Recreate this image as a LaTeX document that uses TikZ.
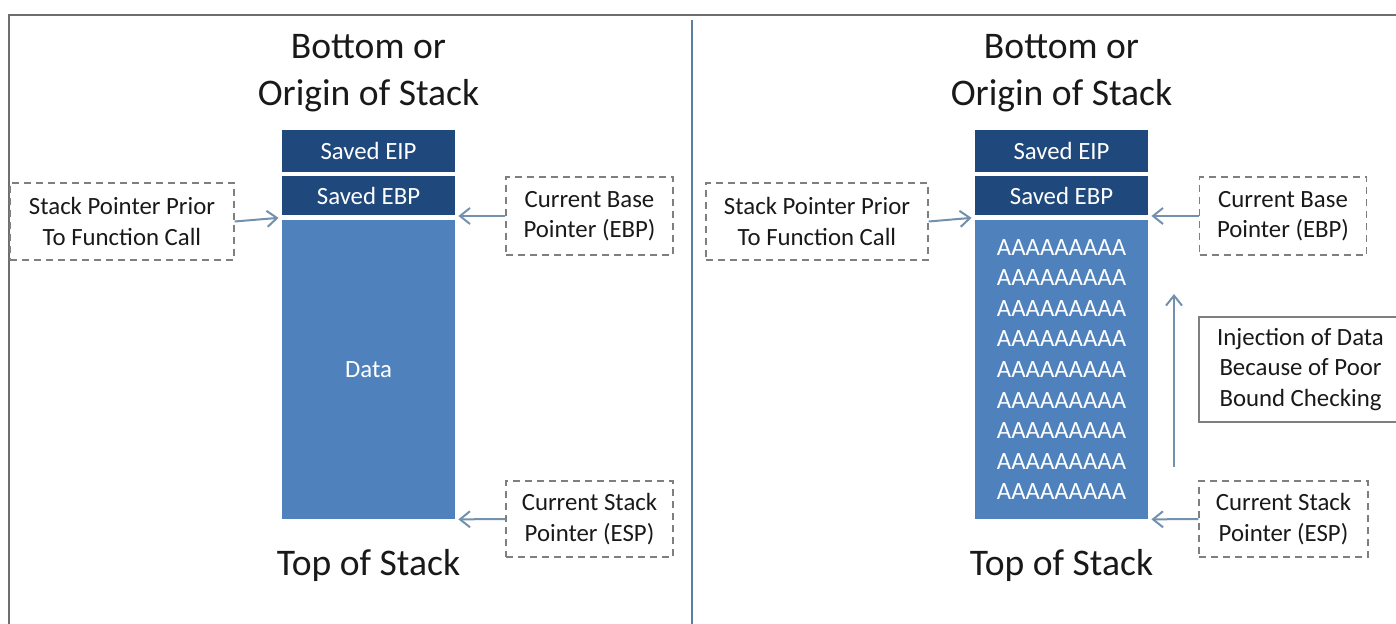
\documentclass[tikz,border=0pt]{standalone}
\usepackage{fontspec}
\setmainfont{Carlito}
\usetikzlibrary{arrows.meta}

\definecolor{savedblue}{HTML}{1F497D}
\definecolor{datablue}{HTML}{4F81BD}
\definecolor{arrowgrey}{HTML}{7391AD}
\definecolor{dashgrey}{HTML}{7F7F7F}
\definecolor{framegrey}{HTML}{6E6E6E}
\definecolor{splitblue}{HTML}{5E7F9E}

\newcommand{\bigtxt}{\fontsize{18.8}{23.5}\selectfont}
\newcommand{\smalltxt}{\fontsize{12.4}{15.3}\selectfont}

\begin{document}
\begin{tikzpicture}[x=0.5pt,y=-0.5pt,
  saved/.style={fill=savedblue,text=white,inner sep=0pt,minimum width=86.5pt,font=\smalltxt},
  datacol/.style={fill=datablue,text=white,inner sep=0pt,minimum width=86.5pt,minimum height=149.5pt,font=\smalltxt,align=center},
  dashbox/.style={draw=dashgrey,line width=0.7pt,dash pattern=on 3.5pt off 2.5pt,inner sep=0pt,align=center,font=\smalltxt,text=black!90},
  title/.style={align=center,font=\bigtxt,text=black!90},
  ptr/.style={draw=arrowgrey,line width=1pt,-{Straight Barb[length=5pt,width=8pt]},shorten >=1.5pt}]

\useasboundingbox (0,0) rectangle (1396,624);

% frame
\draw [framegrey,line width=1pt] (9,625)--(9,15)--(1397,15);
\draw [splitblue,line width=0.8pt] (692,20)--(692,625);

% left panel
\node [title] (botL) at (368.5,73) {Bottom or\\Origin of Stack};
\node [saved,minimum height=21pt] (eipL) at (368.5,151) {Saved EIP};
\node [saved,minimum height=19.5pt] (ebpL) at (368.5,195.5) {Saved EBP};
\node [datacol] (dataL) at (368.5,369.5) {Data};
\node [title] (topL) at (368.5,565) {Top of Stack};

\node [dashbox,minimum width=112pt,minimum height=38.5pt] (priorL) at (122,221.5) {Stack Pointer Prior\\To Function Call};
\node [dashbox,minimum width=83.5pt,minimum height=39pt] (baseL) at (589.5,216) {Current Base\\Pointer (EBP)};
\node [dashbox,minimum width=83.5pt,minimum height=38pt] (espL) at (589.5,519) {Current Stack\\Pointer (ESP)};

\draw [ptr] (priorL.east) -- ([yshift=1pt]dataL.north west);
\draw [ptr] (baseL.west) -- (baseL.west -| dataL.east);
\draw [ptr] (espL.west) -- (dataL.south east);

% right panel
\node [title] (botR) at (1061.5,73) {Bottom or\\Origin of Stack};
\node [saved,minimum height=21pt] (eipR) at (1061.5,151) {Saved EIP};
\node [saved,minimum height=19.5pt] (ebpR) at (1061.5,195.5) {Saved EBP};
\node [datacol] (dataR) at (1061.5,369.5) {AAAAAAAAA\\AAAAAAAAA\\AAAAAAAAA\\AAAAAAAAA\\AAAAAAAAA\\AAAAAAAAA\\AAAAAAAAA\\AAAAAAAAA\\AAAAAAAAA};
\node [title] (topR) at (1061.5,565) {Top of Stack};

\node [dashbox,minimum width=111pt,minimum height=38.5pt] (priorR) at (817,221.5) {Stack Pointer Prior\\To Function Call};
\node [dashbox,minimum width=83.5pt,minimum height=39pt] (baseR) at (1283,216) {Current Base\\Pointer (EBP)};
\node [dashbox,minimum width=84.5pt,minimum height=38pt] (espR) at (1283.5,519) {Current Stack\\Pointer (ESP)};
\node [draw=dashgrey,line width=0.7pt,inner sep=0pt,align=center,font=\smalltxt,text=black!90,minimum width=101.5pt,minimum height=52.5pt] (injR) at (1300.5,369.5) {Injection of Data\\Because of Poor\\Bound Checking};

\coordinate (injB) at (1174,467);
\coordinate (injT) at (1174,294);

\draw [ptr] (priorR.east) -- ([yshift=1pt]dataR.north west);
\draw [ptr] (baseR.west) -- (baseR.west -| dataR.east);
\draw [ptr] (espR.west) -- (dataR.south east);
\draw [ptr,shorten >=0pt] (injB) -- (injT);

\end{tikzpicture}
\end{document}
